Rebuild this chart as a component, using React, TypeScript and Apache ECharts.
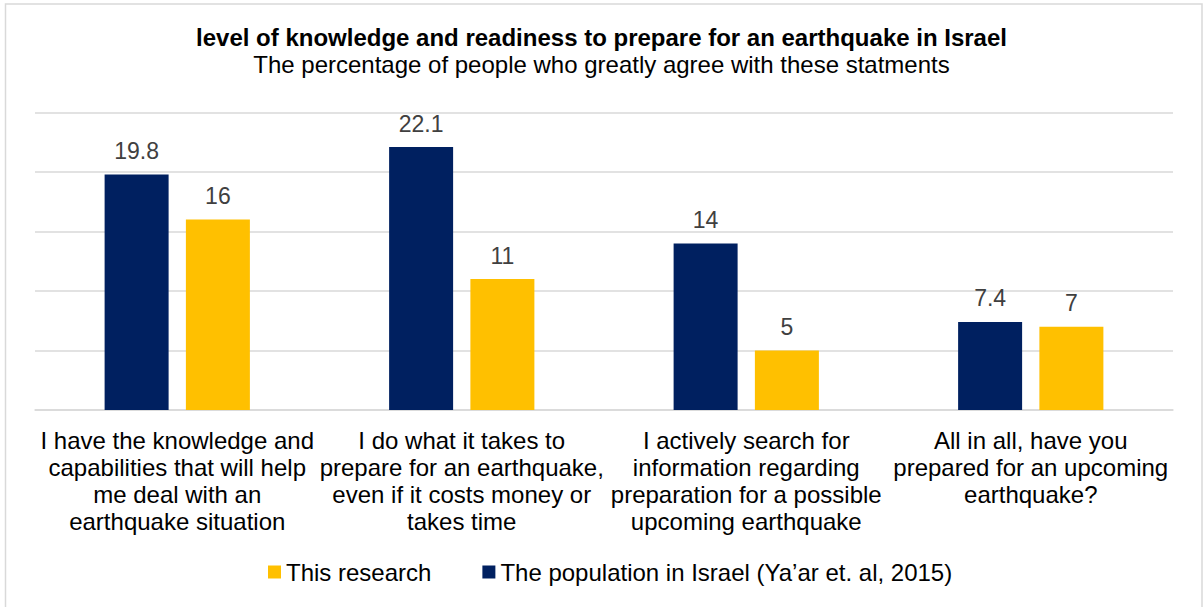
import React, { useEffect, useRef } from "react";
import * as echarts from "echarts";

const categories = [
  "I have the knowledge and\ncapabilities that will help\nme deal with an\nearthquake situation",
  "I do what it takes to\nprepare for an earthquake,\neven if it costs money or\ntakes time",
  "I actively search for\ninformation regarding\npreparation for a possible\nupcoming earthquake",
  "All in all, have you\nprepared for an upcoming\nearthquake?",
];
const seriesPopulationName = "The population in Israel (Ya\u2019ar et. al, 2015)";
const seriesResearchName = "This research";
const populationValues = [19.8, 22.1, 14, 7.4];
const researchValues = [16, 11, 5, 7];
const titleText = "level of knowledge and readiness to prepare for an earthquake in Israel";
const subtitleText = "The percentage of people who greatly agree with these statments";

const FONT = '"Liberation Sans", Arial, Helvetica, sans-serif';

export default function App() {
  const ref = useRef<HTMLDivElement>(null);
  useEffect(() => {
    if (!ref.current) return;
    const chart = echarts.init(ref.current, null, { renderer: "svg" });
    const labelStyle = {
      show: true,
      position: "top" as const,
      distance: 12,
      fontSize: 23,
      lineHeight: 23,
      color: "#404040",
      fontFamily: FONT,
    };
    chart.setOption({
      animation: false,
      backgroundColor: "#ffffff",
      textStyle: { fontFamily: FONT },
      title: {
        text: titleText,
        subtext: subtitleText,
        left: "center",
        top: 25,
        itemGap: 3,
        padding: 0,
        textStyle: {
          fontSize: 24,
          lineHeight: 24,
          fontWeight: "bold",
          color: "#000000",
          fontFamily: FONT,
        },
        subtextStyle: {
          fontSize: 24,
          lineHeight: 24,
          color: "#000000",
          fontFamily: FONT,
        },
      },
      legend: {
        data: [seriesResearchName, seriesPopulationName],
        left: 268,
        top: 560,
        itemWidth: 13,
        itemHeight: 13,
        itemGap: 51,
        icon: "rect",
        padding: 0,
        textStyle: {
          fontSize: 24,
          lineHeight: 24,
          color: "#000000",
          fontFamily: FONT,
        },
      },
      graphic: [
        {
          type: "rect",
          shape: { x: 5.5, y: 4, width: 1196.5, height: 620 },
          style: { fill: "none", stroke: "#d9d9d9", lineWidth: 1.5 },
          silent: true,
          z: -1,
        },
      ],
      grid: {
        left: 35,
        right: 30,
        top: 112.5,
        bottom: 197,
        containLabel: false,
      },
      xAxis: {
        type: "category",
        data: categories,
        axisLine: { show: true, lineStyle: { color: "#d9d9d9", width: 1.5 } },
        axisTick: { show: false },
        axisLabel: {
          interval: 0,
          margin: 17,
          fontSize: 24,
          lineHeight: 27,
          color: "#000000",
          fontFamily: FONT,
          align: "center",
        },
      },
      yAxis: {
        type: "value",
        min: 0,
        max: 25,
        interval: 5,
        axisLine: { show: false },
        axisTick: { show: false },
        axisLabel: { show: false },
        splitLine: { show: true, lineStyle: { color: "#d9d9d9", width: 1.5 } },
      },
      series: [
        {
          name: seriesPopulationName,
          type: "bar",
          data: populationValues,
          barWidth: 64,
          barGap: "27%",
          itemStyle: { color: "#002060" },
          label: labelStyle,
        },
        {
          name: seriesResearchName,
          type: "bar",
          data: researchValues,
          barWidth: 64,
          barGap: "27%",
          itemStyle: { color: "#FFC000" },
          label: labelStyle,
        },
      ],
    });
    return () => chart.dispose();
  }, []);
  return (
    <div
      ref={ref}
      style={{ position: "absolute", left: 0, top: 0, width: 1203, height: 607 }}
    />
  );
}
